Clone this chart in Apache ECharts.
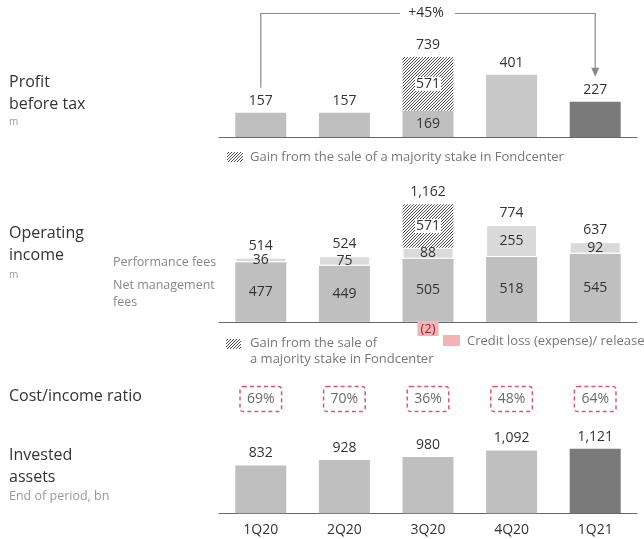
<!DOCTYPE html>
<html>
<head>
<meta charset="utf-8">
<script src="https://cdn.jsdelivr.net/npm/echarts@6/dist/echarts.min.js"></script>
<style>
  html, body { margin: 0; padding: 0; background: #fff; }
  #main { width: 644px; height: 539px; }
</style>
</head>
<body>
<div id="main"></div>
<script>
// data
var quarters = ['1Q20', '2Q20', '3Q20', '4Q20', '1Q21'];
var profitBase = [157, 157, 169, 401, 227];
var profitGain = [null, null, 571, null, null];
var profitTotal = [157, 157, 739, 401, 227];
var netMgmtFees = [477, 449, 505, 518, 545];
var perfFees = [36, 75, 88, 255, 92];
var opGain = [null, null, 571, null, null];
var creditLoss = [null, null, -2, null, null];
var opTotal = [514, 524, 1162, 774, 637];
var costIncome = [69, 70, 36, 48, 64];
var investedAssets = [832, 928, 980, 1092, 1121];

// hatch pattern for the Fondcenter gain
var hatch = document.createElement('canvas');
hatch.width = 3; hatch.height = 3;
var hc = hatch.getContext('2d');
hc.fillStyle = '#fff';
hc.fillRect(0, 0, 3, 3);
hc.strokeStyle = '#3a3a3a';
hc.lineWidth = 0.9;
hc.beginPath();
hc.moveTo(0, 3); hc.lineTo(3, 0);
hc.moveTo(-1, 1); hc.lineTo(1, -1);
hc.moveTo(2, 4); hc.lineTo(4, 2);
hc.stroke();
var hatchFill = { image: hatch, repeat: 'repeat' };

var light = '#bfbfbf';
var dark = '#7a7a7a';
var txt = '#333';
function fmt(v) { return Number(v).toLocaleString('en-US'); }

var chart = echarts.init(document.getElementById('main'));

function xAx(i, showLine, showLabel) {
  return {
    type: 'category', gridIndex: i, data: quarters,
    axisTick: { show: false },
    axisLine: { show: showLine, lineStyle: { color: '#666', width: 1 } },
    axisLabel: { show: showLabel, color: txt, fontSize: 14, margin: 10 }
  };
}
function yAx(i, min, max) {
  return { type: 'value', gridIndex: i, min: min, max: max, show: false, splitLine: { show: false } };
}
function totalSeries(i, data) {
  return {
    type: 'bar', xAxisIndex: i, yAxisIndex: i, data: data, barWidth: 51, barGap: '-100%',
    silent: true, itemStyle: { color: 'transparent' },
    label: { show: true, position: 'top', distance: 5, color: txt, fontSize: 14, formatter: function (p) { return fmt(p.value); } }
  };
}
var innerLabel = { show: true, position: 'inside', color: txt, fontSize: 14 };
var gainLabel = { show: true, position: 'inside', color: txt, fontSize: 14, backgroundColor: '#fff', padding: [0, 1] };

var option = {
  animation: false,
  textStyle: { fontFamily: 'Open Sans' },
  grid: [
    { left: 219, width: 418, top: 57, height: 80 },
    { left: 219, width: 418, top: 204.3, height: 118.7 },
    { left: 219, width: 418, top: 385, height: 28 },
    { left: 219, width: 418, top: 444.3, height: 69 }
  ],
  xAxis: [xAx(0, true, false), xAx(1, true, false), xAx(2, false, false), xAx(3, true, true)],
  yAxis: [yAx(0, 0, 516), yAx(1, -10, 940), yAx(2, -1, 1), yAx(3, 0, 1200)],
  series: [
    // profit before tax
    {
      type: 'bar', xAxisIndex: 0, yAxisIndex: 0, stack: 'pbt', barWidth: 51, barGap: '-100%',
      data: profitBase,
      itemStyle: { color: function (p) { return p.dataIndex === 4 ? dark : (p.dataIndex === 3 ? '#c8c8c8' : light); } },
      label: { show: true, position: 'inside', color: txt, fontSize: 14,
        formatter: function (p) { return p.dataIndex === 2 ? p.value : ''; } }
    },
    {
      type: 'bar', xAxisIndex: 0, yAxisIndex: 0, stack: 'pbt', barWidth: 51, barGap: '-100%',
      data: profitGain, itemStyle: { color: hatchFill }, label: gainLabel
    },
    totalSeries(0, profitTotal),
    // operating income
    {
      type: 'bar', xAxisIndex: 1, yAxisIndex: 1, stack: 'oi', barWidth: 51, barGap: '-100%',
      data: netMgmtFees, itemStyle: { color: light }, label: innerLabel
    },
    {
      type: 'bar', xAxisIndex: 1, yAxisIndex: 1, stack: 'oi', barWidth: 51, barGap: '-100%',
      data: perfFees, itemStyle: { color: '#dadada', borderColor: '#fff', borderWidth: 1 }, label: innerLabel
    },
    {
      type: 'bar', xAxisIndex: 1, yAxisIndex: 1, stack: 'oi', barWidth: 51, barGap: '-100%',
      data: opGain, itemStyle: { color: hatchFill }, label: gainLabel
    },
    {
      type: 'bar', xAxisIndex: 1, yAxisIndex: 1, stack: 'oi', barWidth: 51, barGap: '-100%',
      data: creditLoss, itemStyle: { color: '#f2b3b6' },
      label: { show: true, position: 'bottom', distance: 0, color: '#9b2335', fontSize: 13,
        backgroundColor: '#f2b3b6', padding: [1, 3, 0, 3],
        formatter: function (p) { return '(' + Math.abs(p.value) + ')'; } }
    },
    totalSeries(1, opTotal),
    // cost/income ratio
    {
      type: 'scatter', xAxisIndex: 2, yAxisIndex: 2, symbolSize: 0,
      data: quarters.map(function (q, i) { return [q, 0, costIncome[i]]; }),
      label: { show: true, position: 'inside', color: '#444', fontSize: 14,
        padding: [6, 7, 5, 7], borderColor: '#d8294d', borderWidth: 1.5, borderType: [4, 3], borderRadius: 3,
        formatter: function (p) { return p.value[2] + '%'; } }
    },
    // invested assets
    {
      type: 'bar', xAxisIndex: 3, yAxisIndex: 3, barWidth: 51,
      data: investedAssets,
      itemStyle: { color: function (p) { return p.dataIndex === 4 ? dark : light; } },
      label: { show: true, position: 'top', distance: 5, color: txt, fontSize: 14, formatter: function (p) { return fmt(p.value); } }
    }
  ]
};
chart.setOption(option);

// side titles, legends and the +45% bracket
function t(x, y, s, size, color) {
  return { type: 'text', x: x, y: y, style: { text: s, fontSize: size, fill: color, fontFamily: 'Open Sans', verticalAlign: 'middle' } };
}
var xa = chart.convertToPixel({ xAxisIndex: 0 }, '1Q20');
var xm = chart.convertToPixel({ xAxisIndex: 0 }, '3Q20');
var xb = chart.convertToPixel({ xAxisIndex: 0 }, '1Q21');
var ya = chart.convertToPixel({ yAxisIndex: 0 }, profitTotal[0]) - 25;
var yb = chart.convertToPixel({ yAxisIndex: 0 }, profitTotal[4]) - 25;
var yTop = 13.5;
var lineStyle = { stroke: '#888', lineWidth: 1.2, fill: null };

chart.setOption({
  graphic: [
    t(9, 82, 'Profit', 16, txt), t(9, 104, 'before tax', 16, txt), t(9, 122, 'm', 10, '#999'),
    t(9, 233, 'Operating', 16, txt), t(9, 255, 'income', 16, txt), t(9, 275, 'm', 10, '#999'),
    t(113, 262, 'Performance fees', 12.5, '#888'),
    t(113, 285, 'Net management', 12.5, '#888'), t(113, 302, 'fees', 12.5, '#888'),
    t(9, 396, 'Cost/income ratio', 16, txt),
    t(9, 455, 'Invested', 16, txt), t(9, 477, 'assets', 16, txt), t(9, 496, 'End of period, bn', 12.5, '#999'),
    { type: 'rect', shape: { x: 227, y: 152, width: 16, height: 10 }, style: { fill: hatchFill } },
    t(250, 157, 'Gain from the sale of a majority stake in Fondcenter', 13, '#777'),
    { type: 'rect', shape: { x: 226, y: 339, width: 15, height: 10 }, style: { fill: hatchFill } },
    t(250, 343, 'Gain from the sale of', 13, '#777'),
    t(250, 359, 'a majority stake in Fondcenter', 13, '#777'),
    { type: 'rect', shape: { x: 443, y: 335, width: 17, height: 11 }, style: { fill: '#f2b3b6' } },
    t(467, 341, 'Credit loss (expense)/ release', 13, '#777'),
    { type: 'polyline', shape: { points: [[xa, ya], [xa, yTop], [xm - 28, yTop]] }, style: lineStyle },
    { type: 'polyline', shape: { points: [[xm + 27, yTop], [xb, yTop], [xb, yb - 8]] }, style: lineStyle },
    { type: 'polygon', shape: { points: [[xb - 4, yb - 9], [xb + 4, yb - 9], [xb, yb]] }, style: { fill: '#888' } },
    { type: 'text', x: xm - 2, y: yTop, style: { text: '+45%', fontSize: 14, fill: txt, fontFamily: 'Open Sans', align: 'center', verticalAlign: 'middle' } }
  ]
});
</script>
</body>
</html>
